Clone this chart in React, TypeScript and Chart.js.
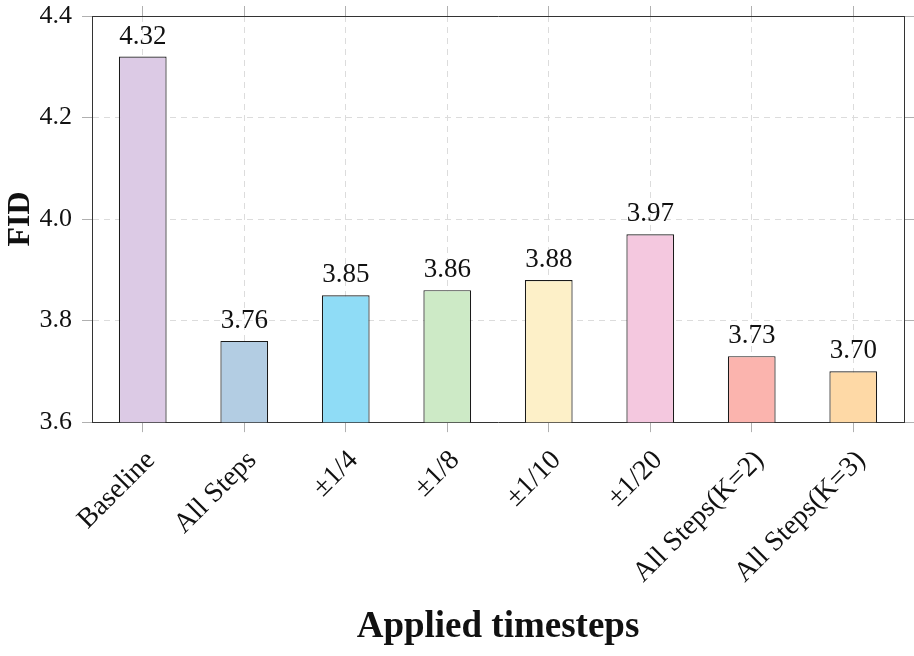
import React, { useEffect, useRef } from "react";
import { Chart, registerables } from "chart.js";

Chart.register(...registerables);

const categories = [
  "Baseline",
  "All Steps",
  "±1/4",
  "±1/8",
  "±1/10",
  "±1/20",
  "All Steps(K=2)",
  "All Steps(K=3)",
];
const fidValues = [4.32, 3.76, 3.85, 3.86, 3.88, 3.97, 3.73, 3.7];
const barColors = [
  "#dccae5",
  "#b3cde3",
  "#8fdcf6",
  "#cdeac6",
  "#fdf0c8",
  "#f4c8df",
  "#fbb4ae",
  "#fed9a6",
];
const yTicks = [3.6, 3.8, 4.0, 4.2, 4.4];

const SERIF = "'Liberation Serif', 'DejaVu Serif', serif";

const valueLabels = {
  id: "valueLabels",
  afterDatasetsDraw(chart: any) {
    const ctx = chart.ctx;
    const meta = chart.getDatasetMeta(0);
    const data = chart.data.datasets[0].data as number[];
    ctx.save();
    ctx.font = `27px ${SERIF}`;
    ctx.fillStyle = "#111";
    ctx.textAlign = "center";
    ctx.textBaseline = "alphabetic";
    meta.data.forEach((el: any, i: number) => {
      ctx.fillText(data[i].toFixed(2), el.x, el.y - 13);
    });
    ctx.restore();
  },
};

const zeroPad = (s: any) => {
  s.paddingTop = 0;
  s.paddingBottom = 0;
  s.paddingLeft = 0;
  s.paddingRight = 0;
};

export default function App() {
  const ref = useRef<HTMLCanvasElement | null>(null);
  useEffect(() => {
    if (!ref.current) return;
    const gridColor = "#dcdcdc";
    const tickColor = "#b0b0b0";
    const frame = "#333333";
    const chart = new Chart(ref.current, {
      type: "bar",
      data: {
        labels: categories,
        datasets: [
          {
            data: fidValues,
            backgroundColor: barColors,
            borderColor: "#1a1a1a",
            borderWidth: 1.2,
            categoryPercentage: 1,
            barPercentage: 0.47,
          },
        ],
      },
      plugins: [valueLabels],
      options: {
        responsive: false,
        animation: false,
        layout: { padding: { top: 6, right: 0, left: 0, bottom: 0 } },
        plugins: {
          legend: { display: false },
          tooltip: { enabled: false },
        },
        scales: {
          x: {
            type: "category",
            position: "bottom",
            offset: true,
            afterFit: zeroPad,
            grid: {
              offset: false,
              color: gridColor,
              tickBorderDash: [],
              tickColor: tickColor,
              tickLength: 10,
            } as any,
            border: { display: true, color: frame, width: 1, dash: [6, 5] },
            ticks: {
              color: "#111",
              font: { family: SERIF, size: 28 },
              maxRotation: 45,
              minRotation: 45,
              padding: 12,
              labelOffset: 8,
            },
            title: {
              display: true,
              text: "Applied timesteps",
              color: "#111",
              font: { family: SERIF, size: 37, weight: "bold" },
              padding: { top: 4, bottom: 6 },
            },
          },
          x2: {
            type: "category",
            position: "top",
            labels: categories,
            offset: true,
            afterFit: zeroPad,
            grid: {
              offset: false,
              drawOnChartArea: false,
              tickColor: tickColor,
              tickLength: 10,
            },
            border: { display: true, color: frame, width: 1 },
            ticks: { display: false },
          },
          y: {
            position: "left",
            min: 3.6,
            max: 4.4,
            afterFit: (s: any) => {
              zeroPad(s);
              s.width = 92;
            },
            afterBuildTicks: (scale: any) => {
              scale.ticks = yTicks.map((v) => ({ value: v }));
            },
            grid: {
              color: gridColor,
              tickBorderDash: [],
              tickColor: tickColor,
              tickLength: 10,
            } as any,
            border: { display: true, color: frame, width: 1, dash: [6, 5] },
            ticks: {
              color: "#111",
              font: { family: SERIF, size: 26 },
              padding: 10,
              callback: (v: any) => Number(v).toFixed(1),
            },
            title: {
              display: true,
              text: "FID",
              color: "#111",
              font: { family: SERIF, size: 32, weight: "bold" },
              padding: { top: 2, bottom: 2 },
            },
          },
          y2: {
            position: "right",
            min: 3.6,
            max: 4.4,
            afterFit: zeroPad,
            afterBuildTicks: (scale: any) => {
              scale.ticks = yTicks.map((v) => ({ value: v }));
            },
            grid: {
              drawOnChartArea: false,
              tickColor: tickColor,
              tickLength: 10,
            },
            border: { display: true, color: frame, width: 1 },
            ticks: { display: false },
          },
        },
      },
    });
    return () => chart.destroy();
  }, []);
  return (
    <div style={{ position: "fixed", left: 0, top: 0, width: 914, height: 656, background: "#fff" }}>
      <canvas ref={ref} width={914} height={656} />
    </div>
  );
}
